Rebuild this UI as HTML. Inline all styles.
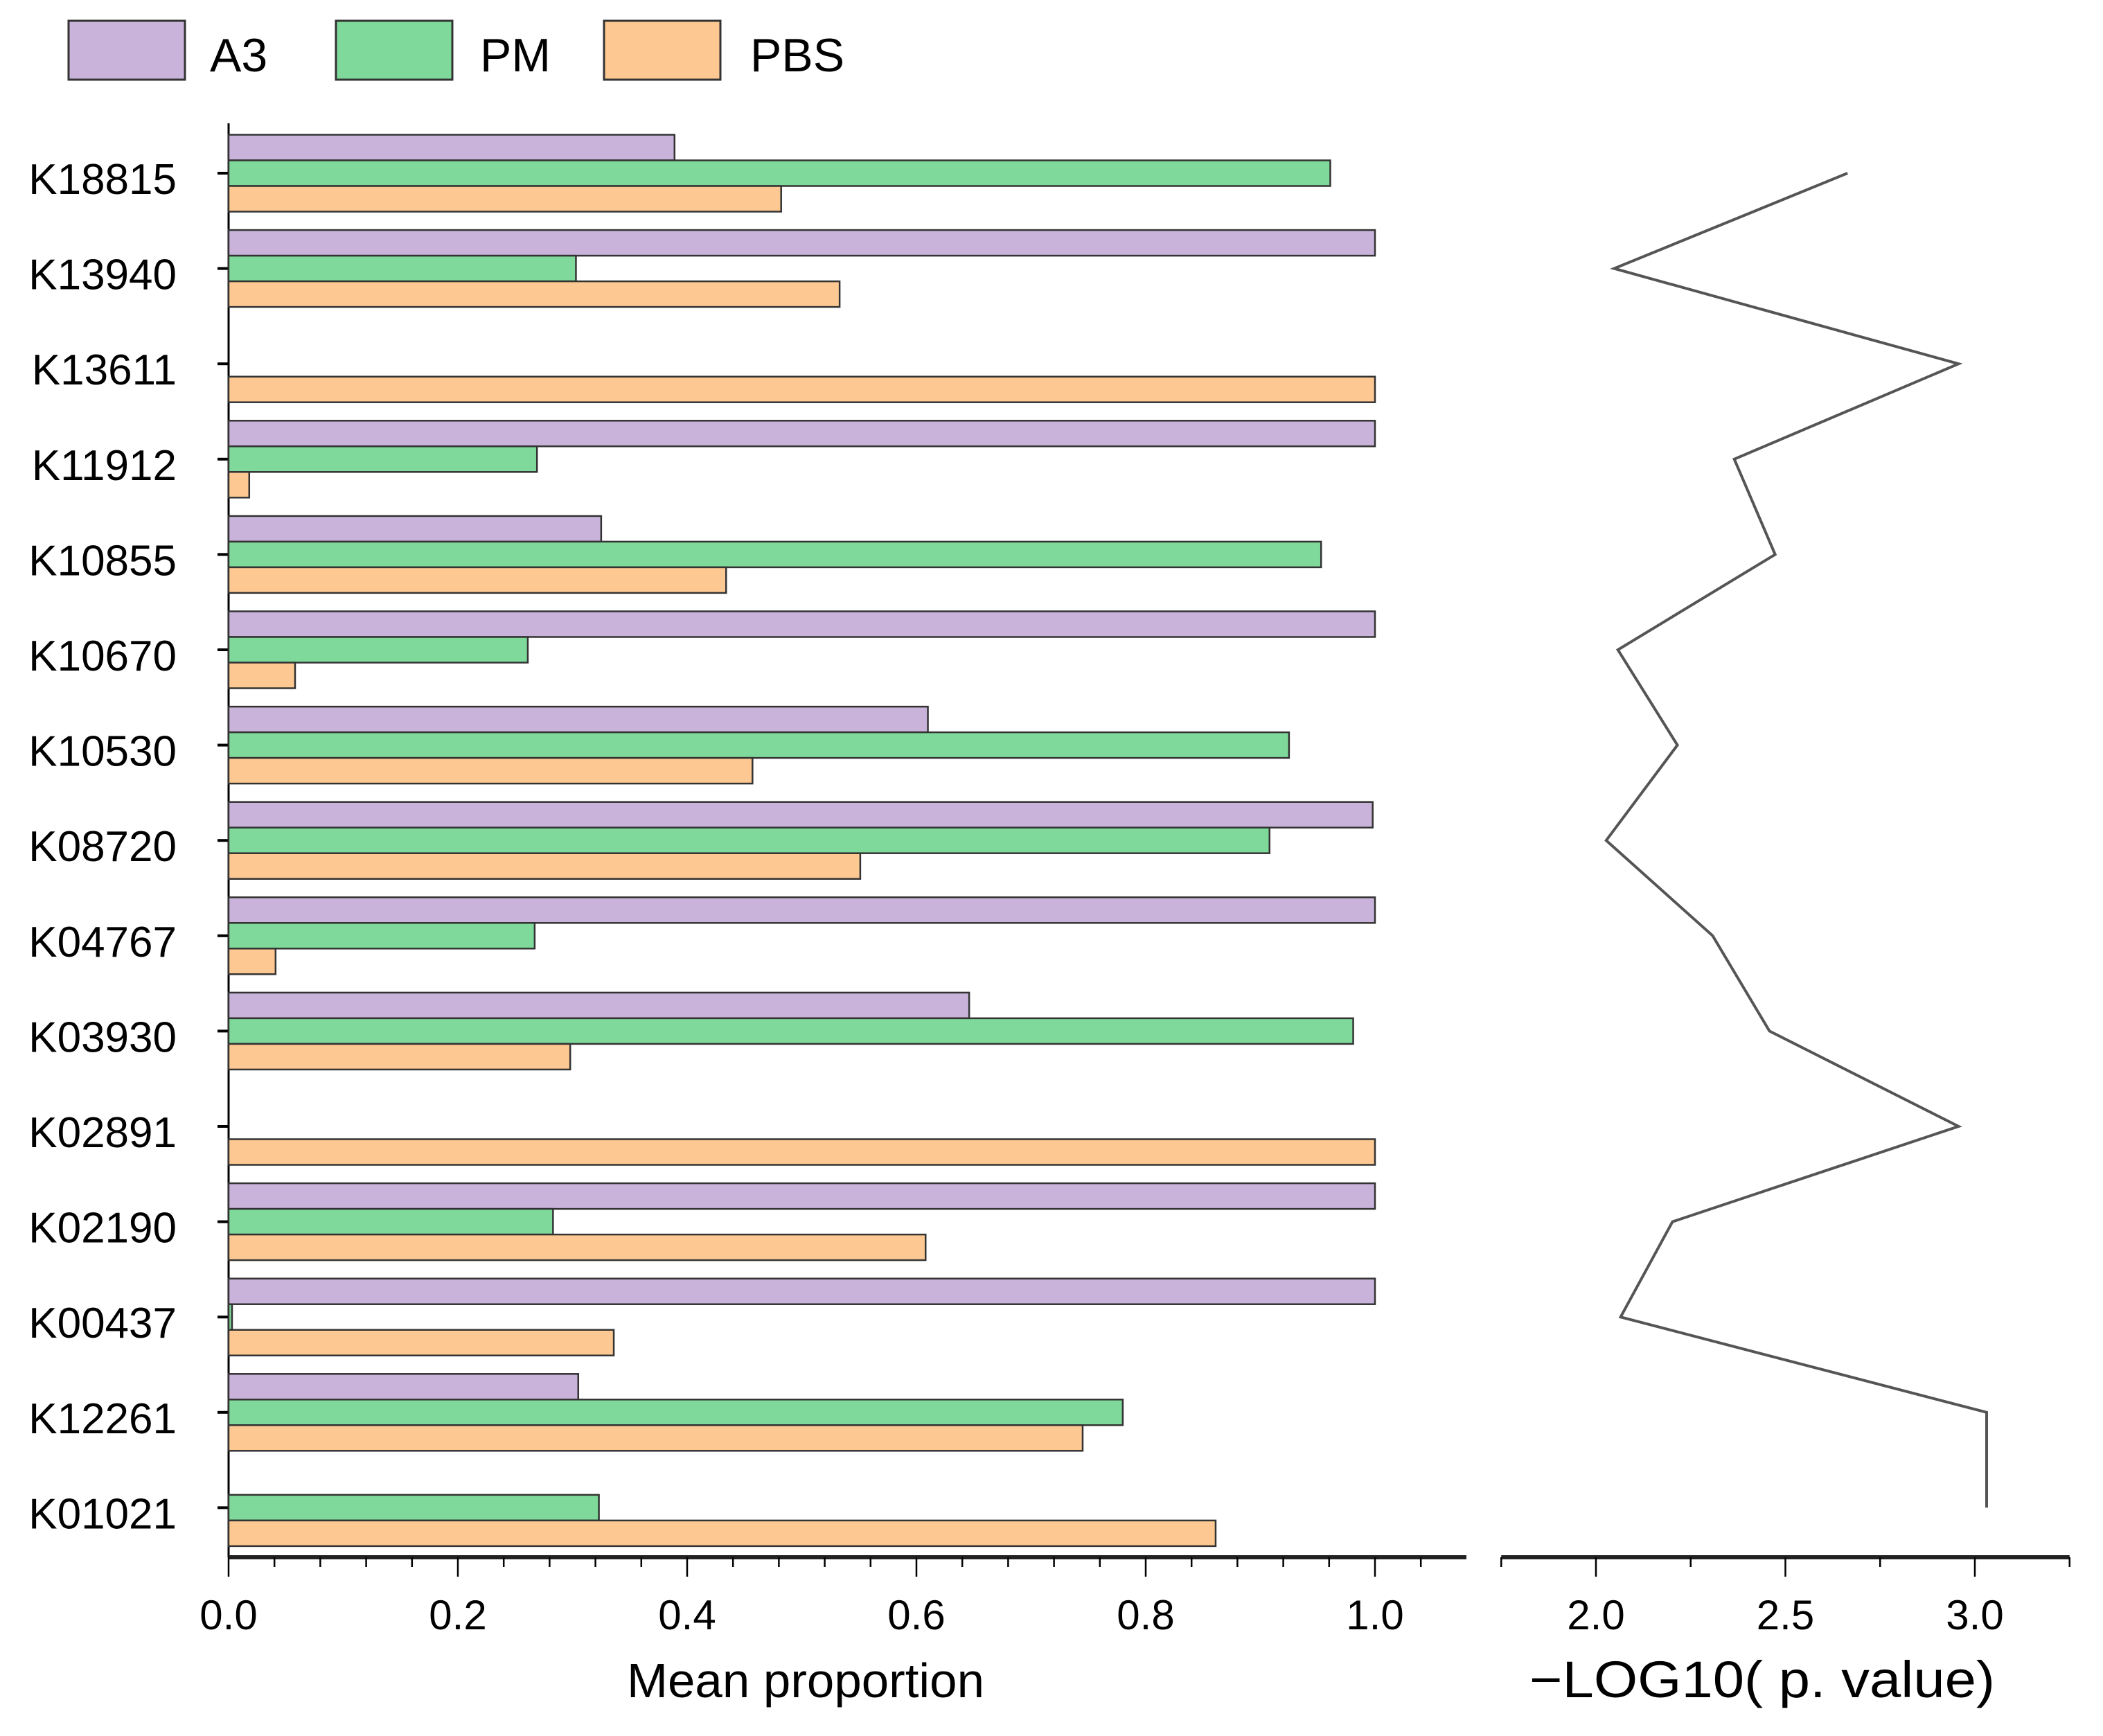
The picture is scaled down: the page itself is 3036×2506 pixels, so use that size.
<!DOCTYPE html>
<html><head><meta charset="utf-8"><style>
html,body{margin:0;padding:0;background:#fff;}
svg{display:block;font-family:"Liberation Sans",Arial,sans-serif;}
</style></head><body>
<svg id="chart" width="3036" height="2506" viewBox="0 0 3036 2506" xmlns="http://www.w3.org/2000/svg">
<g>
<rect x="99" y="30" width="168" height="85" fill="#c9b3da" stroke="#333" stroke-width="3"/>
<text x="303" y="103" font-size="68">A3</text>
<rect x="485" y="30" width="168" height="85" fill="#7fd99a" stroke="#333" stroke-width="3"/>
<text x="693" y="103" font-size="68">PM</text>
<rect x="872" y="30" width="168" height="85" fill="#fdc891" stroke="#333" stroke-width="3"/>
<text x="1083" y="103" font-size="68">PBS</text>
</g>
<g id="bars"></g>
<g id="pline"></g>
<text x="1163" y="2450" font-size="70" text-anchor="middle" textLength="516" lengthAdjust="spacingAndGlyphs">Mean proportion</text>
<text x="2544" y="2450" font-size="74" text-anchor="middle" textLength="672" lengthAdjust="spacingAndGlyphs">−LOG10( p. value)</text>
</svg>
<script>
const categories = ["K18815","K13940","K13611","K11912","K10855","K10670","K10530","K08720","K04767","K03930","K02891","K02190","K00437","K12261","K01021"];
const a3Values = [0.389,1.0,0,1.0,0.325,1.0,0.61,0.998,1.0,0.646,0,1.0,1.0,0.305,0];
const pmValues = [0.961,0.303,0,0.269,0.953,0.261,0.925,0.908,0.267,0.981,0,0.283,0.003,0.780,0.323];
const pbsValues = [0.482,0.533,1.0,0.018,0.434,0.058,0.457,0.551,0.041,0.298,1.0,0.608,0.336,0.745,0.861];
const pValues = [2.664,2.048,2.957,2.365,2.473,2.058,2.215,2.027,2.308,2.458,2.957,2.202,2.065,3.031,3.031];
const leftTicks = ["0.0","0.2","0.4","0.6","0.8","1.0"];
const rightTicks = ["2.0","2.5","3.0"];

const NS="http://www.w3.org/2000/svg";
function mk(tag,attrs,parent){const e=document.createElementNS(NS,tag);for(const k in attrs)e.setAttribute(k,attrs[k]);parent.appendChild(e);return e;}
const xL=v=>330+v*1655;
const xR=v=>2304+(v-2)*547;
const yC=i=>250+i*137.6;
const axisY=2248;
const bars=document.getElementById('bars');
const pl=document.getElementById('pline');

let e=mk('line',{x1:330,y1:178,x2:330,y2:axisY,stroke:'#000','stroke-width':3},bars);


const series=[[a3Values,'#c9b3da',-37,'a3'],[pmValues,'#7fd99a',0,'pm'],[pbsValues,'#fdc891',37,'pbs']];
categories.forEach((c,i)=>{
  const y=yC(i);
  e=mk('line',{x1:314,y1:y,x2:330,y2:y,stroke:'#000','stroke-width':4},bars);
  
  
  e=mk('text',{x:255,y:y+30,'font-size':62,'text-anchor':'end'},bars);
  e.textContent=c;
  
  
  series.forEach(s=>{
    const v=s[0][i];
    if(v<=0)return;
    e=mk('rect',{x:330,y:y+s[2]-18.5,width:xL(v)-330,height:37,fill:s[1],stroke:'#333','stroke-width':2.5},bars);
    
    
  });
});
e=mk('line',{x1:330,y1:axisY,x2:2117,y2:axisY,stroke:'#222','stroke-width':6},bars);


for(let k=0;k<=26;k++){
  const v=k*0.04;const x=xL(v);
  const major=k%5===0;
  e=mk('line',{x1:x,y1:axisY,x2:x,y2:axisY+(major?28:14),stroke:'#000','stroke-width':2.5},bars);
  
  
}
leftTicks.forEach(t=>{
  e=mk('text',{x:xL(parseFloat(t)),y:2352,'font-size':60,'text-anchor':'middle'},bars);
  e.textContent=t;
  
  
});
e=mk('line',{x1:xR(1.75),y1:axisY,x2:xR(3.25),y2:axisY,stroke:'#222','stroke-width':6},pl);


for(let k=0;k<=6;k++){
  const v=1.75+k*0.25;const major=k%2===1;
  e=mk('line',{x1:xR(v),y1:axisY,x2:xR(v),y2:axisY+(major?28:14),stroke:'#000','stroke-width':2.5},pl);
  
  
}
rightTicks.forEach(t=>{
  e=mk('text',{x:xR(parseFloat(t)),y:2352,'font-size':60,'text-anchor':'middle'},pl);
  e.textContent=t;
  
  
});
const pts=pValues.map((v,i)=>xR(v).toFixed(1)+','+yC(i).toFixed(1)).join(' ');
e=mk('polyline',{points:pts,fill:'none',stroke:'#555','stroke-width':4},pl);


</script>
</body></html>
